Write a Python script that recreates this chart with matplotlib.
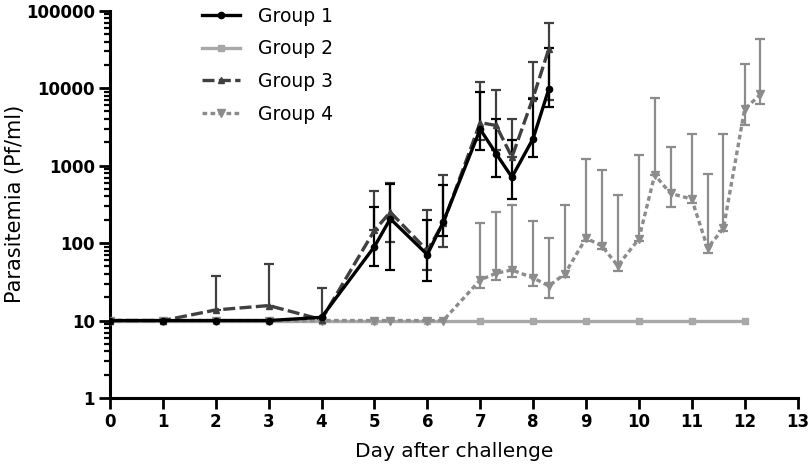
import numpy as np
import matplotlib
matplotlib.use("Agg")
import matplotlib.pyplot as plt
from matplotlib.ticker import LogLocator, FixedLocator, NullFormatter

# ---------------- data ----------------
days_g1 = [0, 1, 2, 3, 4, 5, 5.3, 6, 6.3, 7, 7.3, 7.6, 8, 8.3]
g1_mean = [10, 10, 10, 10, 11, 90, 206, 71, 186, 2950, 1430, 710, 2230, 9860]
g1_low = [10, 10, 10, 10, 11, 50, 45, 32, 125, 1570, 710, 373, 1290, 5700]
g1_high = [10, 10, 10, 10, 11, 291, 580, 196, 555, 8900, 4030, 2120, 7310, 33000]

days_g2 = [0, 1, 2, 3, 4, 5, 6, 7, 8, 9, 10, 11, 12]
g2_mean = [10, 10, 10, 10, 10, 10, 10, 10, 10, 10, 10, 10, 10]

days_g3 = [0, 1, 2, 3, 4, 5, 5.3, 6, 6.3, 7, 7.3, 7.6, 8, 8.3]
g3_mean = [10, 10, 13.7, 15.6, 10.3, 146, 251, 80, 180, 3590, 3300, 1290, 7530, 32400]
g3_low = [10, 10, 13.7, 15.6, 10.3, 146, 103, 45, 90, 2120, 1570, 1290, 7530, 6950]
g3_high = [10, 10, 38, 53, 26, 467, 590, 269, 747, 12000, 9330, 4030, 21700, 70100]

days_g4 = [0, 1, 2, 3, 4, 5, 5.3, 6, 6.3, 7, 7.3, 7.6, 8, 8.3, 8.6, 9, 9.3, 9.6,
           10, 10.3, 10.6, 11, 11.3, 11.6, 12, 12.3]
g4_mean = [10, 10, 10, 10, 10, 10, 10, 10, 10, 33.4, 40.8, 45, 35.5, 28, 40, 116, 92, 51,
           113, 760, 437, 370, 86.5, 155, 5350, 8340]
g4_low = [10, 10, 10, 10, 10, 10, 10, 10, 10, 26.4, 33, 37, 28, 19.4, 36, 107, 84, 44,
          105, 760, 289, 325, 74.5, 145, 3360, 6300]
g4_high = [10, 10, 10, 10, 10, 10, 10, 10, 10, 180, 249, 310, 195, 118, 310, 1210, 880, 417,
           1365, 7410, 1760, 2550, 776, 2550, 20300, 42700]

labels = ["Group 1", "Group 2", "Group 3", "Group 4"]
x_ticks = list(range(0, 14))
y_ticks = [1, 10, 100, 1000, 10000, 100000]
y_ticklabels = ["1", "10", "100", "1000", "10000", "100000"]

# ---------------- plot ----------------
plt.rcParams['font.family'] = ['DejaVu Sans']
fig = plt.figure(figsize=(8.1, 4.65), dpi=100)
ax = fig.add_axes([110 / 810, 1 - 398 / 465, (797.5 - 110) / 810, (398 - 10.7) / 465])

c1, c2, c3, c4 = "#000000", "#a8a8a8", "#404040", "#8c8c8c"


def errbars(x, m, lo, hi, color):
    x = np.asarray(x, float); m = np.asarray(m, float)
    lo = np.asarray(lo, float); hi = np.asarray(hi, float)
    sel = (hi > m) | (lo < m)
    ax.errorbar(x[sel], m[sel], yerr=[m[sel] - lo[sel], hi[sel] - m[sel]],
                fmt="none", ecolor=color, elinewidth=1.6, capsize=3.5,
                capthick=1.6, zorder=2)


errbars(days_g4, g4_mean, g4_low, g4_high, c4)
errbars(days_g3, g3_mean, g3_low, g3_high, c3)
errbars(days_g1, g1_mean, g1_low, g1_high, c1)

l2, = ax.plot(days_g2, g2_mean, color=c2, lw=2.4, marker="s", ms=5, zorder=3,
              label=labels[1])
l4, = ax.plot(days_g4, g4_mean, color=c4, lw=2.4, ls=(0, (1.4, 1.0)), marker="v", ms=5.5,
              zorder=4, label=labels[3])
l3, = ax.plot(days_g3, g3_mean, color=c3, lw=2.4, ls=(0, (3.6, 1.3)), marker="^", ms=5,
              zorder=5, label=labels[2])
l1, = ax.plot(days_g1, g1_mean, color=c1, lw=2.4, marker="o", ms=4.5, zorder=6,
              label=labels[0])

ax.set_yscale("log")
ax.set_xlim(0, 13)
ax.set_ylim(1, 100000)
ax.xaxis.set_major_locator(FixedLocator(x_ticks))
ax.set_xticklabels([str(t) for t in x_ticks], fontweight="bold", fontsize=12)
ax.yaxis.set_major_locator(FixedLocator(y_ticks))
ax.set_yticklabels(y_ticklabels, fontweight="bold", fontsize=12)
ax.yaxis.set_minor_locator(LogLocator(base=10, subs=np.arange(2, 10)))
ax.yaxis.set_minor_formatter(NullFormatter())

for s in ["top", "right"]:
    ax.spines[s].set_visible(False)
for s in ["left", "bottom"]:
    ax.spines[s].set_linewidth(2.2)

ax.tick_params(axis="both", which="major", direction="out", length=8, width=2, pad=3)
ax.tick_params(axis="y", which="minor", direction="out", length=4, width=1.6)

ax.set_xlabel("Day after challenge", fontsize=14.5, labelpad=8)
ax.set_ylabel("Parasitemia (Pf/ml)", fontsize=15)
ax.yaxis.set_label_coords(-0.124, 0.5)

leg = ax.legend(handles=[l1, l2, l3, l4], loc="upper left",
                bbox_to_anchor=(202 / 810, 1 - 7 / 465), bbox_transform=fig.transFigure,
                frameon=False, fontsize=13.5, handlelength=2.0, handletextpad=1.0,
                labelspacing=0.72, borderpad=0, borderaxespad=0)

fig.savefig("out.png", dpi=100)
